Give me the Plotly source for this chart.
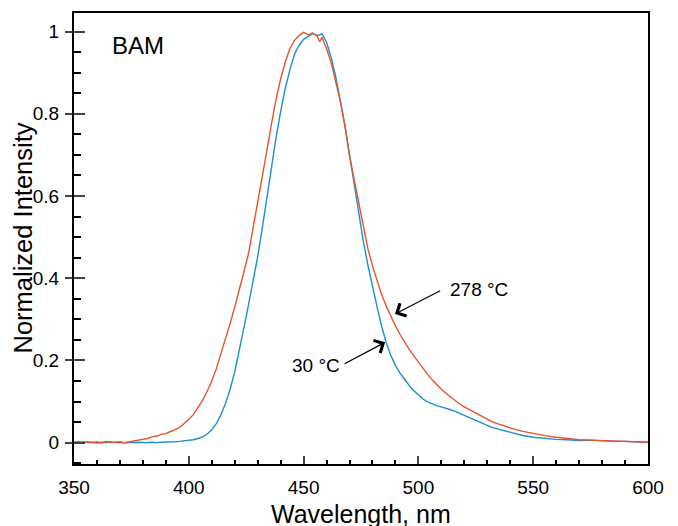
import plotly.graph_objects as go

# BAM emission spectra, normalized
wl_30 = [350, 352, 354, 356, 358, 360, 362, 364, 366, 368, 370, 372, 374, 376, 378,
         380, 382, 384, 386, 388, 390, 392, 394, 396, 398, 400, 402, 404, 406, 408,
         410, 412, 414, 416, 418, 420, 422, 424, 426, 428, 430, 432, 434, 436, 438,
         440, 442, 444, 446, 448, 450, 452, 454, 456, 458, 460, 462, 464, 466, 468,
         470, 472, 474, 476, 478, 480, 482, 484, 486, 488, 490, 492, 494, 496, 498,
         500, 502, 504, 506, 508, 510, 512, 514, 516, 518, 520, 522, 524, 526, 528,
         530, 532, 534, 536, 538, 540, 545, 550, 555, 560, 565, 570, 575, 580, 585,
         590, 595, 600]
int_30 = [0.001, 0.000, 0.002, 0.000, 0.001, -0.001, 0.001, 0.000, 0.002, 0.000, 0.001, 0.000, 0.001, 0.000, 0.001,
          0.000, 0.000, 0.001, 0.000, 0.001, 0.001, 0.002, 0.002, 0.003, 0.004, 0.005, 0.007, 0.010, 0.014, 0.021,
          0.031, 0.046, 0.068, 0.096, 0.130, 0.172, 0.222, 0.279, 0.335, 0.392, 0.452, 0.522, 0.598, 0.672, 0.742,
          0.805, 0.862, 0.906, 0.944, 0.966, 0.981, 0.988, 0.995, 0.990, 0.994, 0.974, 0.937, 0.890, 0.835, 0.772,
          0.700, 0.628, 0.558, 0.490, 0.432, 0.378, 0.330, 0.283, 0.243, 0.212, 0.188, 0.169, 0.153, 0.139, 0.126,
          0.115, 0.106, 0.099, 0.094, 0.090, 0.087, 0.084, 0.080, 0.076, 0.071, 0.066, 0.061, 0.056, 0.051, 0.046,
          0.041, 0.037, 0.034, 0.031, 0.028, 0.025, 0.018, 0.013, 0.010, 0.008, 0.007, 0.005, 0.006, 0.004, 0.003,
          0.003, 0.002, 0.001]

wl_278 = [350, 352, 354, 356, 358, 360, 362, 364, 366, 368, 370, 372, 374, 376, 378,
          380, 382, 384, 386, 388, 390, 392, 394, 396, 398, 400, 402, 404, 406, 408,
          410, 412, 414, 416, 418, 420, 422, 424, 426, 428, 430, 432, 434, 436, 438,
          440, 442, 444, 446, 448, 450, 452, 454, 456, 457, 458, 460, 462, 464, 466, 468,
          470, 472, 474, 476, 478, 480, 482, 484, 486, 488, 490, 492, 494, 496, 498,
          500, 502, 504, 506, 508, 510, 512, 514, 516, 518, 520, 522, 524, 526, 528,
          530, 532, 534, 536, 538, 540, 545, 550, 555, 560, 565, 570, 575, 580, 585,
          590, 595, 600]
int_278 = [0.001, 0.003, -0.001, 0.002, 0.000, 0.002, -0.001, 0.003, 0.000, 0.001, 0.002, -0.001, 0.002, 0.004, 0.006,
           0.008, 0.010, 0.014, 0.016, 0.020, 0.022, 0.027, 0.031, 0.037, 0.046, 0.057, 0.068, 0.085, 0.103, 0.125,
           0.150, 0.180, 0.215, 0.252, 0.290, 0.330, 0.370, 0.415, 0.460, 0.520, 0.580, 0.645, 0.710, 0.775, 0.835,
           0.885, 0.925, 0.958, 0.978, 0.990, 0.998, 0.992, 0.996, 0.988, 0.975, 0.986, 0.958, 0.925, 0.880, 0.830, 0.770,
           0.698, 0.640, 0.585, 0.530, 0.472, 0.430, 0.395, 0.360, 0.332, 0.307, 0.284, 0.263, 0.244, 0.227, 0.211,
           0.195, 0.180, 0.166, 0.153, 0.141, 0.130, 0.120, 0.111, 0.102, 0.094, 0.087, 0.081, 0.074, 0.068, 0.062,
           0.056, 0.051, 0.047, 0.043, 0.040, 0.036, 0.028, 0.022, 0.017, 0.013, 0.010, 0.007, 0.006, 0.005, 0.004,
           0.003, 0.002, 0.001]

x_ticks = [350, 400, 450, 500, 550, 600]
y_ticks = [0, 0.2, 0.4, 0.6, 0.8, 1]

BLUE = "#1a8fd2"
RED = "#e8532b"
FONT = "Liberation Sans, Arial, Helvetica, sans-serif"

fig = go.Figure()
fig.add_trace(go.Scatter(x=wl_30, y=int_30, mode="lines", line=dict(color=BLUE, width=1.4)))
fig.add_trace(go.Scatter(x=wl_278, y=int_278, mode="lines", line=dict(color=RED, width=1.4)))
# dummy trace so the second y axis (outer half of the major ticks) is drawn
fig.add_trace(go.Scatter(x=[None], y=[None], yaxis="y2", showlegend=False))

# page body has an 8px margin, so the plot box is offset to compensate
fig.update_layout(
    width=678, height=526,
    margin=dict(l=66, r=38, t=3, b=70),
    plot_bgcolor="white", paper_bgcolor="white",
    showlegend=False,
    font=dict(family=FONT, size=19, color="black"),
    xaxis=dict(
        range=[350, 600], tickvals=x_ticks, ticks="inside", ticklen=8, tickwidth=1.5,
        minor=dict(dtick=10, ticks="inside", ticklen=4, tickwidth=1.5, tickcolor="black"),
        showline=True, linewidth=2, linecolor="black", mirror=True,
        showgrid=False, zeroline=False, ticklabelstandoff=5,
    ),
    yaxis=dict(
        range=[-0.052, 1.045], tickvals=y_ticks, ticks="outside", ticklen=7, tickwidth=1.5,
        minor=dict(dtick=0.05, ticks="inside", ticklen=7, tickwidth=1.5, tickcolor="black"),
        showline=True, linewidth=2, linecolor="black", mirror=True,
        showgrid=False, zeroline=False, ticklabelstandoff=2,
    ),
    yaxis2=dict(
        range=[-0.052, 1.045], overlaying="y", side="left", tickvals=y_ticks,
        ticks="inside", ticklen=11, tickwidth=1.5, showticklabels=False,
        showline=False, showgrid=False, zeroline=False,
    ),
)

fig.add_annotation(text="Wavelength, nm", xref="paper", yref="paper", x=0.5, y=0,
                   yanchor="top", yshift=-34, showarrow=False, font=dict(size=25))
fig.add_annotation(text="Normalized Intensity", xref="paper", yref="paper", x=0, y=0.5,
                   xanchor="center", xshift=-52, textangle=-90, showarrow=False, font=dict(size=25.5))
fig.add_annotation(text="BAM", x=377.9, y=0.966, showarrow=False, font=dict(size=24))

# labels and arrows
fig.add_annotation(text="278 °C", x=526.2, y=0.373, showarrow=False)
fig.add_annotation(text="", x=489.8, y=0.313, ax=46.7, ay=-24, showarrow=True,
                   arrowhead=4, arrowsize=2.3, arrowwidth=1.2, arrowcolor="black")
fig.add_annotation(text="30 °C", x=455.4, y=0.188, showarrow=False)
fig.add_annotation(text="", x=485.5, y=0.244, ax=-42, ay=22.3, showarrow=True,
                   arrowhead=4, arrowsize=2.3, arrowwidth=1.2, arrowcolor="black")

fig.write_html("out.html")
